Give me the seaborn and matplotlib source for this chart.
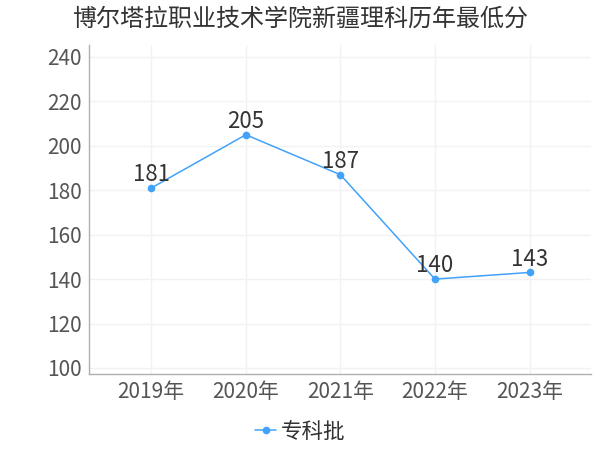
import matplotlib
matplotlib.use("Agg")
import matplotlib.pyplot as plt
import seaborn as sns
import pandas as pd

years = ["2019年", "2020年", "2021年", "2022年", "2023年"]
scores = [181, 205, 187, 140, 143]
series_name = "专科批"
title = "博尔塔拉职业技术学院新疆理科历年最低分"
y_ticks = [100, 120, 140, 160, 180, 200, 220, 240]

sns.set_theme(style="white")
plt.rcParams['font.family'] = ['Noto Sans CJK SC', 'DejaVu Sans']

df = pd.DataFrame({"year": years, "score": scores, "batch": series_name})

fig = plt.figure(figsize=(6, 4.5), dpi=100)
ax = fig.add_axes([0.148, 0.169, 0.837, 0.731])
color = "#42a2fa"
sns.lineplot(data=df, x="year", y="score", hue="batch", palette=[color],
             marker="o", markersize=5.5, markeredgewidth=0, linewidth=1.1, ax=ax, sort=False)

for i, v in enumerate(scores):
    ax.text(i, v + 0.8, str(v), ha="center", va="bottom", fontsize=16, color="#333333")

ax.set_ylim(97.3, 245.4)
ax.set_xlim(-0.66, 4.65)
ax.set_yticks(y_ticks)
ax.set_xlabel("")
ax.set_ylabel("")
ax.tick_params(axis="y", labelsize=15, colors="#555555", length=3, color="#bbbbbb", pad=2)
ax.tick_params(axis="x", labelsize=15, colors="#555555", length=4, color="#bbbbbb", pad=5, direction="in")
ax.grid(True, color="#f2f2f2", linewidth=1)
for s in ["top", "right"]:
    ax.spines[s].set_visible(False)
for s in ["left", "bottom"]:
    ax.spines[s].set_color("#b0b0b0")
    ax.spines[s].set_linewidth(1)

fig.suptitle(title, fontsize=17.3, color="#333333", x=0.5, y=0.988)

ax.legend_.remove()
handles, labels = ax.get_legend_handles_labels()
fig.legend(handles, labels, loc="center", bbox_to_anchor=(0.5, 0.04), frameon=False,
           fontsize=15.5, handlelength=1.0, handletextpad=0.2, labelcolor="#333333")

fig.savefig("out.png", dpi=100)
